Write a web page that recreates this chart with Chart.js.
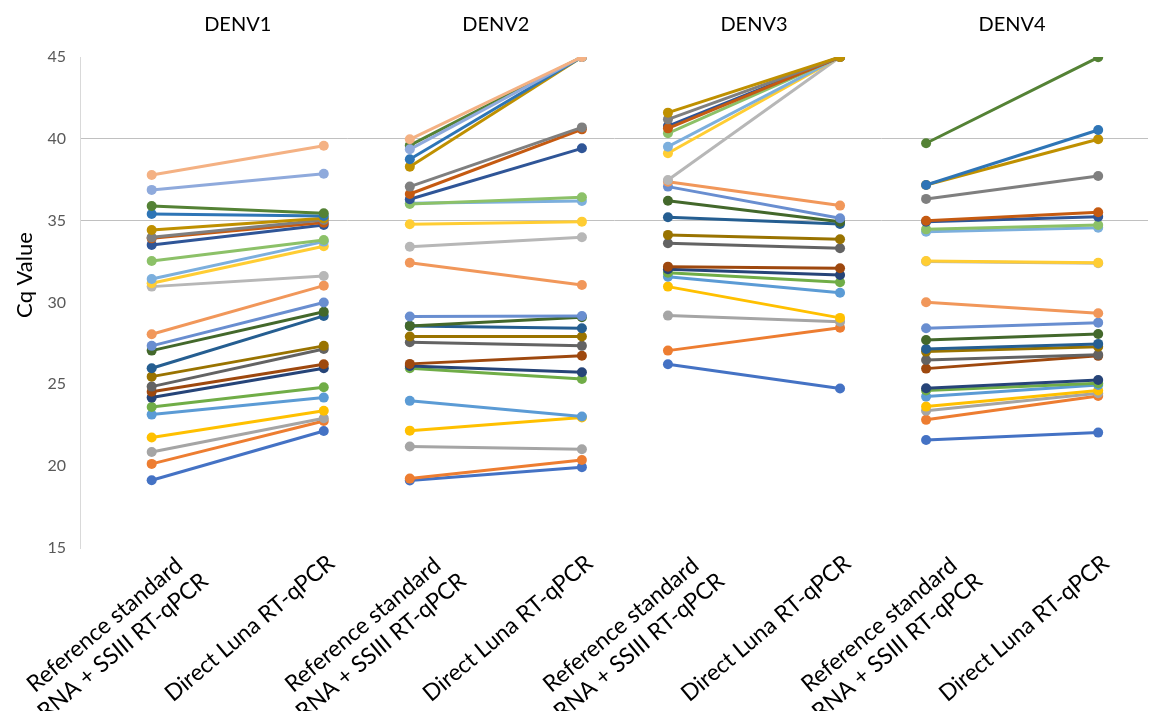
<!DOCTYPE html>
<html>
<head>
<meta charset="utf-8">
<script src="https://cdn.jsdelivr.net/npm/chart.js@4"></script>
<style>
  html, body { margin: 0; padding: 0; background: #fff; }
  canvas { display: block; }
</style>
</head>
<body>
<canvas id="cqChart" width="1153" height="711"></canvas>
<script>
// groups and method labels
const groupNames = ["DENV1", "DENV2", "DENV3", "DENV4"];
const methodLabels = [
  ["Reference standard", "RNA + SSIII RT-qPCR"],
  ["Direct Luna RT-qPCR"]
];
const yTitle = "Cq Value";
const yTicks = [15, 20, 25, 30, 35, 40, 45];

// Cq values, one entry per sample (reference standard -> direct Luna)
const denv1Ref = [19.14, 20.14, 20.87, 21.75, 23.15, 23.62, 24.19, 24.55, 24.86, 25.47, 25.98, 27.06, 27.35, 28.06, 30.97, 31.18, 31.44, 32.54, 33.52, 33.92, 33.98, 34.43, 35.41, 35.90, 36.88, 37.79];
const denv1Direct = [22.15, 22.76, 22.93, 23.39, 24.19, 24.82, 25.98, 26.23, 27.16, 27.35, 29.18, 29.44, 30.0, 31.03, 31.62, 33.44, 33.72, 33.82, 34.74, 34.88, 35.04, 35.15, 35.29, 35.45, 37.87, 39.58];

const denv2Ref = [19.12, 19.24, 21.2, 22.17, 23.99, 25.98, 26.12, 26.25, 27.57, 27.92, 28.57, 28.57, 29.14, 32.43, 33.41, 34.78, 36.06, 36.02, 36.31, 36.63, 37.08, 38.3, 38.75, 39.6, 39.36, 39.97];
const denv2Direct = [19.94, 20.38, 21.03, 22.97, 23.03, 25.33, 25.74, 26.75, 27.35, 27.92, 28.43, 29.10, 29.18, 31.07, 33.99, 34.94, 36.2, 36.43, 39.42, 40.58, 40.70, 45, 45, 45, 45, 45];

const denv3Ref = [26.23, 27.06, 29.2, 30.97, 31.58, 31.82, 32.03, 32.19, 33.62, 34.13, 35.21, 36.22, 37.08, 37.38, 37.49, 39.12, 39.52, 40.34, 40.78, 40.64, 41.19, 41.6];
const denv3Direct = [24.74, 28.46, 28.83, 29.06, 30.6, 31.24, 31.68, 32.09, 33.31, 33.86, 34.8, 34.94, 35.15, 35.92, 45, 45, 45, 45, 45, 45, 45, 45];

const denv4Ref = [21.6, 22.83, 23.39, 23.64, 24.25, 24.62, 24.76, 25.96, 26.49, 27.0, 27.16, 27.71, 28.43, 30.01, 32.5, 32.54, 34.33, 34.47, 34.94, 35.0, 36.33, 37.18, 37.18, 39.73];
const denv4Direct = [22.05, 24.29, 24.46, 24.62, 24.96, 25.07, 25.27, 26.74, 26.8, 27.3, 27.47, 28.08, 28.77, 29.34, 32.4, 32.43, 34.57, 34.74, 35.24, 35.51, 37.73, 39.97, 40.54, 44.98];

const refSets = [denv1Ref, denv2Ref, denv3Ref, denv4Ref];
const directSets = [denv1Direct, denv2Direct, denv3Direct, denv4Direct];

// office-style series colours
const palette = ["#4472C4", "#ED7D31", "#A5A5A5", "#FFC000", "#5B9BD5", "#70AD47", "#264478", "#9E480E", "#636363", "#997300",
  "#255E91", "#43682B", "#698ED0", "#F1975A", "#B7B7B7", "#FFCD33", "#7CAFDD", "#8CC168", "#2F5597", "#C55A11",
  "#7F7F7F", "#BF9000", "#2E75B6", "#548235", "#8FAADC", "#F4B183"];

const FONT = "Lato, 'Open Sans', sans-serif";
const LABEL_ANGLE = 40 * Math.PI / 180;

const datasets = [];
refSets.forEach((refs, g) => {
  refs.forEach((v, i) => {
    datasets.push({
      data: [{ x: 3 * g, y: v }, { x: 3 * g + 2, y: directSets[g][i] }],
      borderColor: palette[i],
      backgroundColor: palette[i],
      borderWidth: 3,
      pointRadius: 5,
      pointBorderWidth: 0,
      order: -i
    });
  });
});

const labelPlugin = {
  id: "labelPlugin",
  afterDraw(chart) {
    const ctx = chart.ctx;
    const xs = chart.scales.x;
    ctx.save();
    ctx.fillStyle = "#000";
    ctx.textAlign = "center";
    ctx.textBaseline = "middle";

    // group titles
    ctx.font = "20px " + FONT;
    groupNames.forEach((name, g) => {
      ctx.fillText(name, xs.getPixelForValue(3 * g + 1), 25);
    });

    // y axis title
    ctx.save();
    ctx.font = "22px " + FONT;
    ctx.translate(25, 275);
    ctx.rotate(-Math.PI / 2);
    ctx.fillText(yTitle, 0, 0);
    ctx.restore();

    // rotated category labels
    ctx.font = "23px " + FONT;
    groupNames.forEach((name, g) => {
      methodLabels.forEach((lines, k) => {
        const px = xs.getPixelForValue(3 * g + 2 * k);
        const two = lines.length > 1;
        const maxW = Math.max(...lines.map(l => ctx.measureText(l).width));
        ctx.save();
        ctx.translate(px + (two ? 44 : 7.5), two ? 567 : 560);
        ctx.rotate(-LABEL_ANGLE);
        lines.forEach((line, j) => {
          ctx.fillText(line, -maxW / 2, (j - (lines.length - 1) / 2) * 28);
        });
        ctx.restore();
      });
    });
    ctx.restore();
  }
};

new Chart(document.getElementById("cqChart"), {
  type: "line",
  data: { datasets },
  options: {
    responsive: false,
    animation: false,
    devicePixelRatio: 1,
    layout: { padding: { top: 57, bottom: 163, left: 0, right: 0 } },
    plugins: { legend: { display: false }, tooltip: { enabled: false } },
    scales: {
      x: { type: "linear", display: false, min: -0.833, max: 11.579 },
      y: {
        min: 15,
        max: 45,
        afterBuildTicks: axis => { axis.ticks = yTicks.map(v => ({ value: v })); },
        afterFit: axis => { axis.width = 80; },
        ticks: { color: "#595959", font: { family: FONT, size: 16 }, padding: 14 },
        grid: {
          drawTicks: false,
          color: c => (c.tick && (c.tick.value === 35 || c.tick.value === 40)) ? "#c0c0c0" : "rgba(0,0,0,0)"
        },
        border: { display: true, color: "#d9d9d9" }
      }
    }
  },
  plugins: [labelPlugin]
});
</script>
</body>
</html>
